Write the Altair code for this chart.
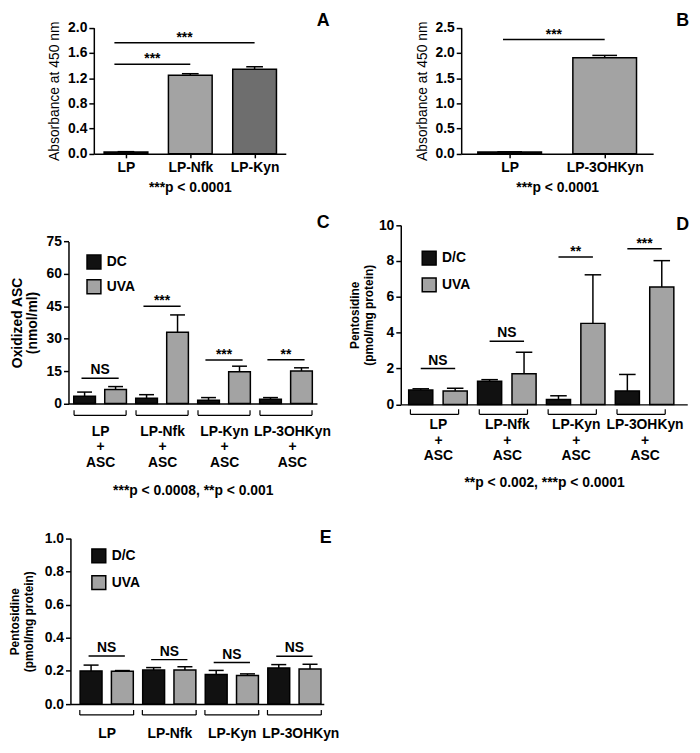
import json
import altair as alt
import pandas as pd

FONT = "Liberation Sans"
BLACK = "#111111"
GREY = "#a3a3a3"
DARK = "#6e6e6e"

# ---------------- Panel A
A_cats = ["LP", "LP-Nfk", "LP-Kyn"]
A_vals = [0.03, 1.245, 1.34]
A_errs = [0.005, 0.025, 0.04]
A_fill = [BLACK, GREY, DARK]
A_sig_from = [0, 0]
A_sig_to = [1, 2]
A_sig_y = [1.42, 1.76]
A_sig_txt = ["***", "***"]
A_ticks = [0.0, 0.4, 0.8, 1.2, 1.6, 2.0]
A_note = "***p < 0.0001"

# ---------------- Panel B
B_cats = ["LP", "LP-3OHKyn"]
B_vals = [0.035, 1.905]
B_errs = [0.005, 0.045]
B_fill = [BLACK, GREY]
B_sig_from = [0]
B_sig_to = [1]
B_sig_y = [2.265]
B_sig_txt = ["***"]
B_ticks = [0.0, 0.5, 1.0, 1.5, 2.0, 2.5]
B_note = "***p < 0.0001"

# ---------------- grouped panels
CD_groups = [["LP", "+", "ASC"], ["LP-Nfk", "+", "ASC"],
             ["LP-Kyn", "+", "ASC"], ["LP-3OHKyn", "+", "ASC"]]
E_groups = ["LP", "LP-Nfk", "LP-Kyn", "LP-3OHKyn"]

C_series = ["DC", "UVA"]
C_dc = [3.3, 2.4, 1.5, 1.95]
C_dc_err = [1.95, 1.65, 1.2, 0.75]
C_uva = [6.45, 33.0, 14.7, 15.0]
C_uva_err = [1.35, 8.0, 2.55, 1.5]
C_sig_y = [11.7, 45.0, 20.1, 20.25]
C_sig_txt = ["NS", "***", "***", "**"]
C_ticks = [0, 15, 30, 45, 60, 75]
C_note = "***p < 0.0008, **p < 0.001"

D_series = ["D/C", "UVA"]
D_dc = [0.8, 1.29, 0.27, 0.75]
D_dc_err = [0.07, 0.09, 0.21, 0.92]
D_uva = [0.75, 1.71, 4.52, 6.55]
D_uva_err = [0.15, 1.2, 2.71, 1.47]
D_sig_y = [2.0, 3.52, 8.22, 8.69]
D_sig_txt = ["NS", "NS", "**", "***"]
D_ticks = [0, 2, 4, 6, 8, 10]
D_note = "**p < 0.002, ***p < 0.0001"

E_series = ["D/C", "UVA"]
E_dc = [0.200, 0.205, 0.178, 0.218]
E_dc_err = [0.035, 0.015, 0.025, 0.02]
E_uva = [0.198, 0.205, 0.172, 0.212]
E_uva_err = [0.004, 0.02, 0.01, 0.028]
E_sig_y = [0.29, 0.268, 0.25, 0.288]
E_sig_txt = ["NS", "NS", "NS", "NS"]
E_ticks = [0.0, 0.2, 0.4, 0.6, 0.8, 1.0]

# ---------------- layout (pixels of the whole figure)
W, H = 686, 732


def fx(v):
    return (v - 2) * 0.983


def fy(v):
    return v * 0.972


GEOM = {
    "A": dict(x=(86, 283), y=(146, 15), letter=(328, 13)),
    "B": dict(x=(463, 660), y=(146, 15), letter=(697, 13)),
    "C": dict(x=(60, 315), y=(405, 237), letter=(328, 223), legend=(78, 250)),
    "D": dict(x=(401, 695), y=(406, 220), letter=(697, 225), legend=(422, 246)),
    "E": dict(x=(62, 322), y=(717, 545), letter=(330, 550), legend=(83, 555)),
}


def build(bars, sig, p, brk=None, brk_ticks=None, fill=None):
    g = GEOM[p["letter"]]
    x0, x1 = fx(g["x"][0]), fx(g["x"][1])
    yb, yt = fy(g["y"][0]), fy(g["y"][1])
    xs = alt.Scale(domain=p["xdom"], range=[x0, x1], nice=False, zero=False)
    ys = alt.Scale(domain=[0, p["ymax"]], range=[yb, yt], nice=False, zero=False)
    lab_off = p.get("lab_off")
    extra = {}
    if lab_off:
        extra["labelOffset"] = {"condition": {"test": f"datum.value == {lab_off[0]}",
                                              "value": lab_off[1]}, "value": 0}
    if p.get("xticks"):
        extra.update(ticks=True, tickSize=4, tickWidth=1.5, tickColor="black")
    else:
        extra.update(ticks=False)
    xaxis = alt.Axis(orient="bottom", offset=-(H - yb), values=p["xvals"],
                     labelExpr=p["labelExpr"], grid=False,
                     domainColor="black", domainWidth=1.5, labelFont=FONT, labelFontSize=14,
                     labelFontWeight="bold", labelColor="black", labelPadding=p["lpad"],
                     labelLineHeight=16, labelFlush=False, labelOverlap=False, labelAngle=0,
                     title=p["note"], titleFont=FONT, titleFontSize=14, titleFontWeight="bold",
                     titleColor="black", titlePadding=p["tpad"], **extra)
    yaxis = alt.Axis(orient="left", offset=-x0, values=p["yticks"], format=p["fmt"],
                     grid=False, domainColor="black",
                     domainWidth=1.5, tickColor="black", tickWidth=1.5, tickSize=5,
                     labelFont=FONT, labelFontSize=14, labelFontWeight="bold", labelColor="black",
                     labelPadding=2, title=p["ytitle"], titleFont=FONT, titleFontSize=p["ytfs"],
                     titleFontWeight=p["ytfw"], titleColor="black", titlePadding=p["ytpad"],
                     titleLineHeight=p["ytlh"])

    def X(f):
        return alt.X(f"{f}:Q", scale=xs, axis=xaxis)

    def Y(f):
        return alt.Y(f"{f}:Q", scale=ys, axis=yaxis)

    layers = [
        alt.Chart(bars).mark_rule(color="black", strokeWidth=1.5).encode(
            x=X("pos"), y=Y("val"), y2="top"),
        alt.Chart(bars).mark_rule(color="black", strokeWidth=1.5).encode(
            x=X("c0"), x2="c1", y=Y("top")),
        alt.Chart(bars).mark_rect(stroke="black", strokeWidth=1.5).encode(
            x=X("x0"), x2="x1", y=Y("val"), y2="zero", fill=fill),
        alt.Chart(sig).mark_rule(color="black", strokeWidth=1.5).encode(
            x=X("s0"), x2="s1", y=Y("sy")),
        alt.Chart(sig).transform_filter("datum.txt != 'NS'").mark_text(
            font=FONT, fontSize=14, fontWeight="bold", baseline="alphabetic", dy=p["stardy"],
            color="black").encode(x=X("mid"), y=Y("sy"), text="txt:N"),
        alt.Chart(sig).transform_filter("datum.txt == 'NS'").mark_text(
            font=FONT, fontSize=14, fontWeight="bold", baseline="alphabetic", dy=-4,
            color="black").encode(x=X("mid"), y=Y("sy"), text="txt:N"),
    ]
    if brk is not None:
        h = yb - yt
        by = -p["bpx"] / h * p["ymax"]
        bt = by + 5 / h * p["ymax"]
        brk = brk.assign(by=by)
        brk_ticks = brk_ticks.assign(by=by, bt=bt)
        layers.append(alt.Chart(brk).mark_rule(color="black", strokeWidth=1.2).encode(
            x=X("b0"), x2="b1", y=Y("by")))
        layers.append(alt.Chart(brk_ticks).mark_rule(color="black", strokeWidth=1.2).encode(
            x=X("bx"), y=Y("by"), y2="bt"))
    lx, ly = fx(g["letter"][0]), fy(g["letter"][1])
    layers.append(alt.Chart(pd.DataFrame({"t": [p["letter"]]})).mark_text(
        font=FONT, fontSize=18, fontWeight="bold", align="right", baseline="alphabetic",
        color="black").encode(x=alt.value(lx), y=alt.value(ly), text="t:N"))
    return alt.layer(*layers)


def simple_panel(cats, vals, errs, fills, sf, st, sy, stxt, p):
    n = len(cats)
    bw, cw = p["bw"], p["cw"]
    bars = pd.DataFrame({"cat": cats, "pos": list(range(n)), "val": vals, "err": errs})
    bars["x0"] = bars["pos"] - bw / 2
    bars["x1"] = bars["pos"] + bw / 2
    bars["c0"] = bars["pos"] - cw
    bars["c1"] = bars["pos"] + cw
    bars["top"] = bars["val"] + bars["err"]
    bars["zero"] = 0.0
    sig = pd.DataFrame({"s0": sf, "s1": st, "sy": sy, "txt": stxt})
    sig["s0"] = sig["s0"] + p["sshift"]
    sig["mid"] = (sig["s0"] + sig["s1"]) / 2
    p = dict(p)
    p["xvals"] = list(range(n))
    p["labelExpr"] = f"{json.dumps(cats)}[datum.value]"
    p["xticks"] = True
    fill = alt.Fill("cat:N", scale=alt.Scale(domain=cats, range=fills), legend=None)
    return build(bars, sig, p, fill=fill)


def grouped_panel(groups, series, dc, dce, uva, uvae, sy, stxt, p):
    bw, cw, off = 0.35, 0.12, 0.25
    rows = []
    for i in range(len(groups)):
        for s, v, e, o in ((series[0], dc[i], dce[i], -off), (series[1], uva[i], uvae[i], off)):
            pos = i + o
            rows.append({"series": s, "pos": pos, "val": v, "top": v + e,
                         "x0": pos - bw / 2, "x1": pos + bw / 2,
                         "c0": pos - cw, "c1": pos + cw, "zero": 0.0})
    bars = pd.DataFrame(rows)
    idx = list(range(len(groups)))
    sig = pd.DataFrame({"mid": idx, "sy": sy, "txt": stxt})
    sig["s0"] = sig["mid"] - p["sh"]
    sig["s1"] = sig["mid"] + p["sh"]
    brk = pd.DataFrame({"b0": [i + p["blo"] for i in idx], "b1": [i + p["bhi"] for i in idx]})
    bticks = pd.DataFrame({"bx": [i + p["blo"] for i in idx] + [i + p["bhi"] for i in idx]})
    p = dict(p)
    p["xvals"] = idx
    p["labelExpr"] = f"{json.dumps(groups)}[datum.value]"
    g = GEOM[p["letter"]]
    fill = alt.Fill("series:N", scale=alt.Scale(domain=series, range=[BLACK, GREY]),
                    legend=alt.Legend(title=None, orient="none", legendX=fx(g["legend"][0]),
                                      legendY=fy(g["legend"][1]), symbolType="square",
                                      symbolSize=196, symbolStrokeColor="black",
                                      symbolStrokeWidth=1.5, labelFont=FONT, labelFontSize=14,
                                      labelFontWeight="bold", labelColor="black",
                                      rowPadding=p["lgrp"], labelOffset=5))
    return build(bars, sig, p, brk=brk, brk_ticks=bticks, fill=fill)


A = simple_panel(A_cats, A_vals, A_errs, A_fill, A_sig_from, A_sig_to, A_sig_y, A_sig_txt, dict(
    xdom=[-0.5, 2.485], ymax=2.0, yticks=A_ticks, fmt=".1f", bw=0.68, cw=0.13, sshift=-0.18,
    note=A_note, lpad=3, tpad=6, ytitle="Absorbance at 450 nm", ytfs=14, ytfw="normal",
    ytpad=6, ytlh=15, stardy=-1, letter="A"))

B = simple_panel(B_cats, B_vals, B_errs, B_fill, B_sig_from, B_sig_to, B_sig_y, B_sig_txt, dict(
    xdom=[-0.51, 1.51], ymax=2.5, yticks=B_ticks, fmt=".1f", bw=0.67, cw=0.13, sshift=-0.07,
    note=B_note, lpad=3, tpad=6, ytitle="Absorbance at 450 nm", ytfs=14, ytfw="normal",
    ytpad=6, ytlh=15, stardy=-1, letter="B"))

C = grouped_panel(CD_groups, C_series, C_dc, C_dc_err, C_uva, C_uva_err, C_sig_y, C_sig_txt, dict(
    xdom=[-0.51, 3.5], ymax=75, yticks=C_ticks, fmt="d", note=C_note,
    lpad=21, tpad=14, ytitle=["Oxidized ASC", "(nmol/ml)"], ytfs=14, ytfw="bold", ytpad=7,
    ytlh=15, stardy=-1, letter="C", sh=0.3, bpx=12, blo=-0.42, bhi=0.42, lgrp=5,
    lab_off=(3, 6)))

D = grouped_panel(CD_groups, D_series, D_dc, D_dc_err, D_uva, D_uva_err, D_sig_y, D_sig_txt, dict(
    xdom=[-0.54, 3.62], ymax=10, yticks=D_ticks, fmt="d", note=D_note,
    lpad=13, tpad=13, ytitle=["Pentosidine", "(pmol/mg protein)"], ytfs=12, ytfw="bold",
    ytpad=3, ytlh=14, stardy=-1, letter="D", sh=0.25, bpx=10, blo=-0.4, bhi=0.3, lgrp=7))

E = grouped_panel(E_groups, E_series, E_dc, E_dc_err, E_uva, E_uva_err, E_sig_y, E_sig_txt, dict(
    xdom=[-0.58, 3.47], ymax=1.0, yticks=E_ticks, fmt=".1f", note=None,
    lpad=23, tpad=10, ytitle=["Pentosidine", "(pmol/mg protein)"], ytfs=12, ytfw="bold",
    ytpad=9, ytlh=14, stardy=-1, letter="E", sh=0.29, bpx=11, blo=-0.43, bhi=0.43, lgrp=7,
    lab_off=(3, 6)))

chart = alt.layer(A, B, C, D, E).resolve_scale(
    x="independent", y="independent", fill="independent"
).resolve_axis(x="independent", y="independent").resolve_legend(fill="independent")

chart = chart.properties(
    width=W, height=H,
    padding={"left": 0, "top": 0, "right": 0, "bottom": 0}
).configure_view(stroke=None)

chart.save("out.html", embed_options={"renderer": "svg", "actions": False})
